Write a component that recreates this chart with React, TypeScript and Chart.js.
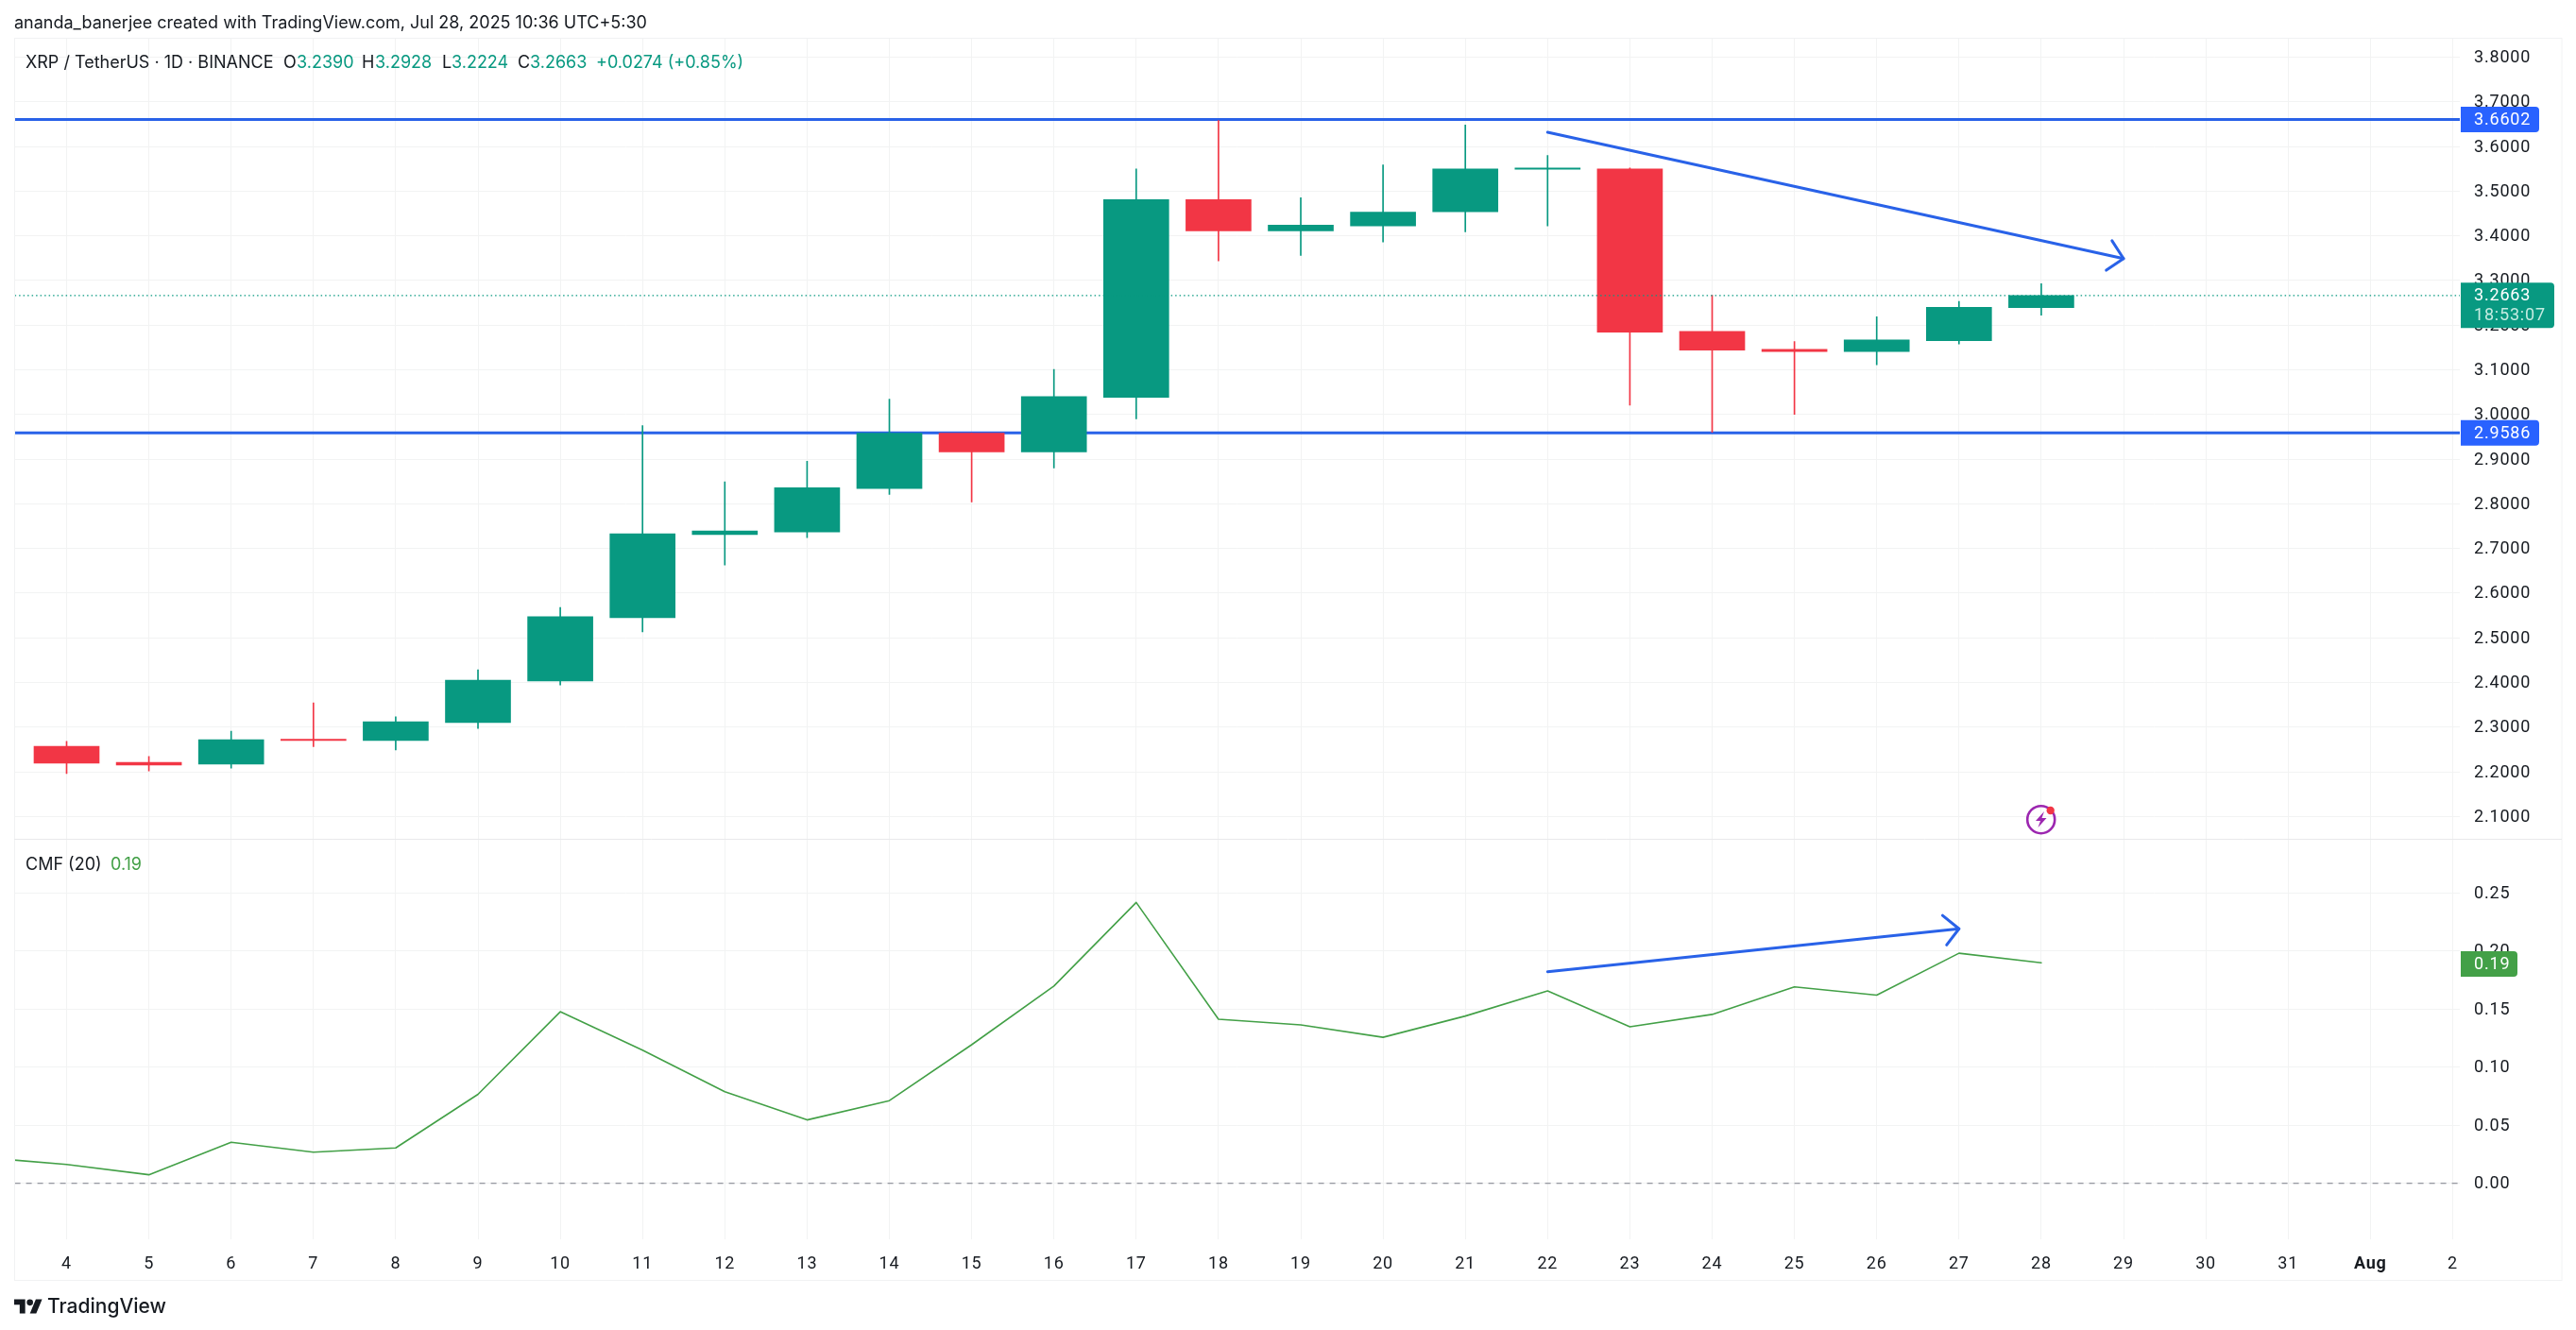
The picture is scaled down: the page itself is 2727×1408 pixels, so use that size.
import React, { useEffect, useRef } from "react";
import { Chart, registerables } from "chart.js";

Chart.register(...registerables);

const WIDTH = 2727;
const HEIGHT = 1408;
const FONT = "Inter, 'Noto Sans', sans-serif";
const AXIS_FONT = "Roboto, Inter, sans-serif";
const AXIS_SPACING = "0.8px";

const GREEN = "#089981";
const RED = "#f23645";
const BLUE = "#2962e8";
const TAG_BLUE = "#2962ff";
const CMF_GREEN = "#43a047";
const GRID = "#f2f3f3";
const INK = "#161a20";

// x axis: position 0 is Jul 4; -1 is Jul 3, the day that only the CMF line reaches.
const axisLabels = ["4", "5", "6", "7", "8", "9", "10", "11", "12", "13", "14", "15", "16", "17", "18", "19", "20", "21", "22", "23", "24", "25", "26", "27", "28", "29", "30", "31", "Aug", "2"];
const candleDays = [0, 1, 2, 3, 4, 5, 6, 7, 8, 9, 10, 11, 12, 13, 14, 15, 16, 17, 18, 19, 20, 21, 22, 23, 24];
const opens = [2.257, 2.221, 2.217, 2.272, 2.27, 2.31, 2.403, 2.545, 2.731, 2.737, 2.834, 2.958, 2.916, 3.038, 3.481, 3.411, 3.422, 3.454, 3.549, 3.55, 3.186, 3.146, 3.141, 3.165, 3.239];
const closes = [2.219, 2.215, 2.272, 2.27, 2.312, 2.405, 2.547, 2.733, 2.739, 2.836, 2.958, 2.916, 3.04, 3.481, 3.411, 3.424, 3.453, 3.55, 3.551, 3.184, 3.144, 3.141, 3.167, 3.24, 3.2663];
const highs = [2.268, 2.234, 2.291, 2.354, 2.323, 2.428, 2.568, 2.975, 2.849, 2.895, 3.034, 2.958, 3.101, 3.55, 3.658, 3.485, 3.559, 3.648, 3.58, 3.552, 3.267, 3.163, 3.219, 3.253, 3.2928];
const lows = [2.196, 2.202, 2.208, 2.256, 2.249, 2.297, 2.394, 2.513, 2.663, 2.724, 2.821, 2.804, 2.88, 2.99, 3.344, 3.356, 3.386, 3.409, 3.422, 3.021, 2.96, 3, 3.111, 3.158, 3.2224];

const cmfDays = [-1, 0, 1, 2, 3, 4, 5, 6, 7, 8, 9, 10, 11, 12, 13, 14, 15, 16, 17, 18, 19, 20, 21, 22, 23, 24];
const cmfValues = [0.0222, 0.0163, 0.0074, 0.0354, 0.0268, 0.0305, 0.0766, 0.1477, 0.1147, 0.0788, 0.0546, 0.0712, 0.1193, 0.1698, 0.2418, 0.1413, 0.1364, 0.1257, 0.144, 0.1656, 0.1347, 0.1454, 0.1691, 0.162, 0.1981, 0.1899];

const resistance = 3.6602;
const support = 2.9586;
const lastPrice = 3.2663;
const lastCmf = 0.19;
const zeroLevel = 0;

const xRange = [-0.6303, 29.087];
const priceRange = [2.0492, 3.8434];
const cmfRange = [-0.0484, 0.2963];

const priceArrowX = [18, 25];
const priceArrowY = [3.632, 3.349];
const priceHeadX = [24.86, 25, 24.79];
const priceHeadY = [3.389, 3.349, 3.323];
const cmfArrowX = [18, 23];
const cmfArrowY = [0.1822, 0.2191];
const cmfHeadX = [22.8, 23, 22.85];
const cmfHeadY = [0.2306, 0.2191, 0.2052];

const toPoints = (xs: number[], ys: number[]) => xs.map((x, i) => ({ x, y: ys[i] }));
const level = (y: number) => xRange.map((x) => ({ x, y }));
const candleColor = (i: number) => (closes[i] >= opens[i] ? GREEN : RED);

function lineSet(label: string, data: { x: number; y: number }[], yAxisID: string, color: string, width: number, order: number, dash: number[] = []) {
  return {
    type: "line" as const,
    label,
    data,
    yAxisID,
    xAxisID: "x",
    borderColor: color,
    backgroundColor: color,
    borderWidth: width,
    borderDash: dash,
    borderCapStyle: dash.length ? ("butt" as const) : ("round" as const),
    borderJoinStyle: "round" as const,
    pointRadius: 0,
    tension: 0,
    fill: false,
    order,
  };
}

function roundedTag(ctx: CanvasRenderingContext2D, x: number, y: number, w: number, h: number, color: string) {
  ctx.fillStyle = color;
  ctx.beginPath();
  ctx.roundRect(x, y, w, h, [0, 4, 4, 0]);
  ctx.fill();
}

const overlayPlugin = {
  id: "paneFurniture",
  beforeDraw(chart: any) {
    chart.ctx.letterSpacing = AXIS_SPACING;
  },
  afterDraw(chart: any) {
    const { ctx, chartArea, scales } = chart;
    const labelX = chartArea.right + 15;
    const tagX = chartArea.right + 1;
    ctx.save();

    ctx.strokeStyle = "#f1f2f3";
    ctx.lineWidth = 1;
    ctx.strokeRect(15.5, 40.5, 2696.5, 1315);
    ctx.strokeStyle = "#e8e9eb";
    ctx.beginPath();
    ctx.moveTo(15, Math.round(chartArea.top + scales.yp.height) + 0.5);
    ctx.lineTo(2712, Math.round(chartArea.top + scales.yp.height) + 0.5);
    ctx.stroke();

    ctx.font = `18px ${AXIS_FONT}`;
    ctx.textAlign = "left";
    ctx.textBaseline = "middle";

    for (const v of [resistance, support]) {
      const y = scales.yp.getPixelForValue(v);
      roundedTag(ctx, tagX, y - 13.5, 83, 27, TAG_BLUE);
      ctx.fillStyle = "#ffffff";
      ctx.fillText(v.toFixed(4), labelX, y + 1);
    }

    const py = scales.yp.getPixelForValue(lastPrice);
    roundedTag(ctx, tagX, py - 13.5, 99, 48, GREEN);
    ctx.fillStyle = "#ffffff";
    ctx.fillText(lastPrice.toFixed(4), labelX, py + 1);
    ctx.fillStyle = "#c4ebe1";
    ctx.fillText("18:53:07", labelX, py + 22);

    const cy = scales.yc.getPixelForValue(lastCmf);
    roundedTag(ctx, tagX, cy - 12, 60, 27, CMF_GREEN);
    ctx.fillStyle = "#ffffff";
    ctx.fillText(lastCmf.toFixed(2), labelX, cy + 2.5);

    ctx.restore();
  },
};

const abs = (left: number, top: number, size: number, color = INK): React.CSSProperties => ({
  position: "absolute",
  left,
  top,
  fontFamily: FONT,
  fontSize: size,
  lineHeight: "22px",
  color,
  whiteSpace: "pre",
});

export default function App() {
  const ref = useRef<HTMLCanvasElement | null>(null);

  useEffect(() => {
    if (!ref.current) return;
    const chart = new Chart(ref.current, {
      type: "bar",
      data: {
        datasets: [
          lineSet("Resistance", level(resistance), "yp", BLUE, 3, 9),
          lineSet("Support", level(support), "yp", BLUE, 3, 9),
          {
            type: "bar",
            label: "Wick",
            data: candleDays.map((x, i) => ({ x, y: [lows[i], highs[i]] })),
            yAxisID: "yp",
            xAxisID: "x",
            backgroundColor: candleDays.map((_, i) => candleColor(i)),
            barThickness: 1,
            grouped: false,
            order: 8,
          },
          {
            type: "bar",
            label: "XRP / TetherUS",
            data: candleDays.map((x, i) => ({ x, y: [opens[i], closes[i]] })),
            yAxisID: "yp",
            xAxisID: "x",
            backgroundColor: candleDays.map((_, i) => candleColor(i)),
            barThickness: 69,
            minBarLength: 1.4,
            grouped: false,
            order: 7,
          },
          lineSet("Last price", level(lastPrice), "yp", GREEN, 1.2, 6, [1.5, 3]),
          lineSet("Zero", level(zeroLevel), "yc", "#787b86", 1, 6, [6, 6]),
          lineSet("CMF (20)", toPoints(cmfDays, cmfValues), "yc", CMF_GREEN, 1.6, 5),
          lineSet("Price arrow", toPoints(priceArrowX, priceArrowY), "yp", BLUE, 3, 1),
          lineSet("Price arrow head", toPoints(priceHeadX, priceHeadY), "yp", BLUE, 3, 1),
          lineSet("CMF arrow", toPoints(cmfArrowX, cmfArrowY), "yc", BLUE, 3, 1),
          lineSet("CMF arrow head", toPoints(cmfHeadX, cmfHeadY), "yc", BLUE, 3, 1),
        ] as any,
      },
      plugins: [overlayPlugin as any],
      options: {
        responsive: false,
        animation: false,
        devicePixelRatio: 1,
        events: [],
        layout: { padding: { left: 15.6, top: 40, right: 0, bottom: 0 } },
        plugins: { legend: { display: false }, tooltip: { enabled: false }, title: { display: false } },
        scales: {
          x: {
            type: "linear",
            axis: "x",
            position: "bottom",
            min: xRange[0],
            max: xRange[1],
            offset: false,
            afterFit: (s: any) => {
              s.height = 95.7;
            },
            grid: { color: GRID, drawTicks: false, offset: false, lineWidth: 1 },
            border: { display: false },
            ticks: {
              stepSize: 1,
              autoSkip: false,
              includeBounds: false,
              maxRotation: 0,
              padding: 15,
              color: INK,
              font: (c: any) => ({ family: AXIS_FONT, size: 18, weight: axisLabels[c.tick?.value] === "Aug" ? "bold" : "normal" }),
              callback: (v: any) => axisLabels[v] ?? "",
            },
          },
          yp: {
            type: "linear",
            axis: "y",
            position: "right",
            stack: "panes",
            stackWeight: 848.3,
            weight: 1,
            min: priceRange[0],
            max: priceRange[1],
            afterFit: (s: any) => {
              s.width = 123;
            },
            grid: { color: GRID, drawTicks: false },
            border: { display: false },
            ticks: {
              stepSize: 0.1,
              includeBounds: false,
              padding: 15,
              labelOffset: 1,
              color: INK,
              font: { family: AXIS_FONT, size: 18 },
              callback: (v: any) => Number(v).toFixed(4),
            },
          },
          yc: {
            type: "linear",
            axis: "y",
            position: "right",
            stack: "panes",
            stackWeight: 424,
            weight: 2,
            min: cmfRange[0],
            max: cmfRange[1],
            afterFit: (s: any) => {
              s.width = 123;
            },
            grid: { color: GRID, drawTicks: false },
            border: { display: false },
            ticks: {
              stepSize: 0.05,
              includeBounds: false,
              padding: 15,
              labelOffset: 1,
              color: INK,
              font: { family: AXIS_FONT, size: 18 },
              callback: (v: any) => Math.abs(Number(v)).toFixed(2),
            },
          },
        },
      } as any,
    });
    return () => chart.destroy();
  }, []);

  return (
    <div style={{ position: "fixed", left: 0, top: 0, width: WIDTH, height: HEIGHT, background: "#fff", overflow: "hidden" }}>
      <canvas ref={ref} width={WIDTH} height={HEIGHT} style={{ display: "block" }} />
      <div style={abs(15, 13, 18)}>ananda_banerjee created with TradingView.com, Jul 28, 2025 10:36 UTC+5:30</div>
      <div style={abs(27, 55, 18)}>XRP / TetherUS · 1D · BINANCE</div>
      <div style={abs(300, 55, 18)}>O</div>
      <div style={abs(314, 55, 18, GREEN)}>3.2390</div>
      <div style={abs(383, 55, 18)}>H</div>
      <div style={abs(397, 55, 18, GREEN)}>3.2928</div>
      <div style={abs(468, 55, 18)}>L</div>
      <div style={abs(478, 55, 18, GREEN)}>3.2224</div>
      <div style={abs(548, 55, 18)}>C</div>
      <div style={abs(561, 55, 18, GREEN)}>3.2663</div>
      <div style={abs(631, 55, 18, GREEN)}>+0.0274 (+0.85%)</div>
      <div style={abs(27, 904, 18)}>CMF (20)</div>
      <div style={abs(117, 904, 18, CMF_GREEN)}>0.19</div>
      <svg style={{ position: "absolute", left: 15, top: 1373 }} width="30" height="20" viewBox="0 4 36 18">
        <path d="M14 22H7V11H0V4h14v18zM28 22h-8l7.5-18h8L28 22z" fill={INK} />
        <circle cx="20" cy="8" r="4" fill={INK} />
      </svg>
      <div style={{ ...abs(50, 1372, 21), fontWeight: 500 }}>TradingView</div>
      <svg style={{ position: "absolute", left: 2140, top: 847 }} width="42" height="42" viewBox="0 0 42 42">
        <circle cx="20.7" cy="20.7" r="14.5" fill="none" stroke="#9c27b0" strokeWidth="2.6" />
        <path d="M24 12 L15 22 H20 L17.5 29 L26.5 19 H21.5 Z" fill="#9c27b0" />
        <circle cx="30.7" cy="11" r="4.2" fill="#f23645" />
      </svg>
    </div>
  );
}
